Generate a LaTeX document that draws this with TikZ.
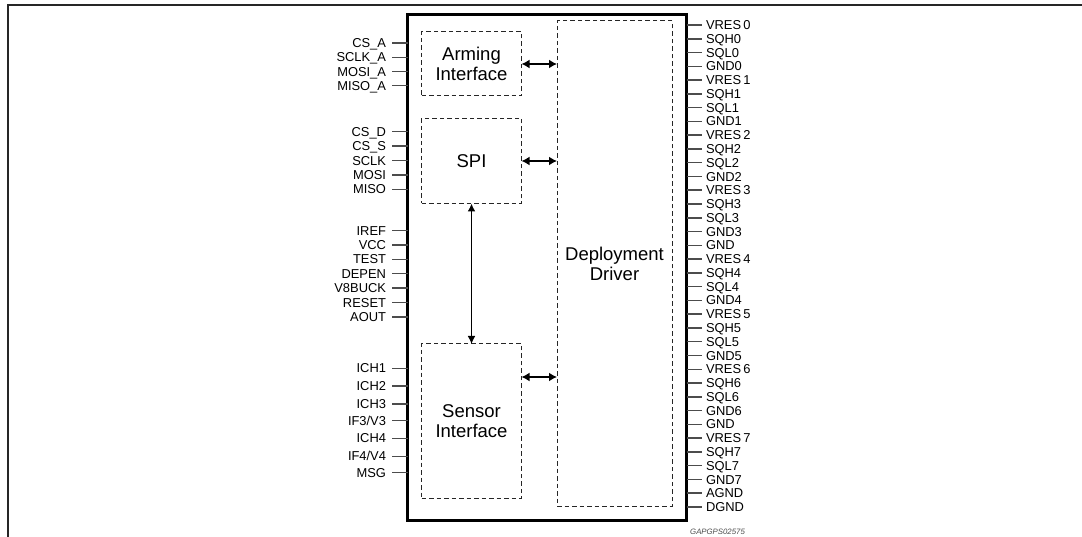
\documentclass[tikz,border=0pt]{standalone}
\usepackage{fontspec}
\setmainfont{Liberation Sans}
\usetikzlibrary{arrows.meta}
\begin{document}
\begin{tikzpicture}[x=1pt,y=-1pt,
  pinlbl/.style={inner sep=0pt, outer sep=0pt, text height=9.2pt, text depth=0pt, font=\fontsize{12.9}{14}\selectfont, text=black},
  stub/.style={line width=1.5pt, draw=black!70},
  chipbox/.style={draw=black, line width=3pt, inner sep=0pt, outer sep=0pt},
  blockbox/.style={draw=black!85, line width=1pt, dash pattern=on 4.5pt off 3pt, inner sep=0pt, outer sep=0pt, align=center, font=\fontsize{18.5}{20}\selectfont},
  biarrow/.style={line width=2.3pt, {Latex[length=8pt,width=9pt]}-{Latex[length=8pt,width=9pt]}},
  varrow/.style={line width=1.8pt, {Latex[length=8pt,width=8pt]}-{Latex[length=8pt,width=8pt]}},
  codelbl/.style={inner sep=0pt, font=\fontsize{7.8}{9}\itshape, text=black!70}
]
\useasboundingbox (0,0) rectangle (1082,537);
% page frame
\draw[line width=2pt, black!85] (8,537) -- (8,5) -- (1082,5);

% chip outline
\node[chipbox, anchor=north west, minimum width=279pt, minimum height=505.7pt] (chip) at (407.5,14.3) {};

% internal blocks
\node[blockbox, anchor=north west, minimum width=100pt, minimum height=64pt] (arm) at (421.5,32) {Arming\\Interface};
\node[blockbox, anchor=north west, minimum width=100pt, minimum height=85pt] (spi) at (421.5,118.5) {SPI};
\node[blockbox, anchor=north west, minimum width=100pt, minimum height=154pt] (sens) at (421.5,344) {Sensor\\Interface};
\node[blockbox, anchor=north west, minimum width=115pt, minimum height=485pt] (dd) at (557,21) {Deployment\\Driver};

% connections
\draw[biarrow] (arm.east) -- (arm.east -| dd.west);
\draw[biarrow] (spi.east) -- (spi.east -| dd.west);
\coordinate (sa) at ([yshift=44pt]sens.east);
\draw[biarrow] (sa) -- (sa -| dd.west);
\draw[varrow] (spi.south) -- (sens.north);

% left pins
\foreach \t/\y [count=\i] in {CS\_A/43, SCLK\_A/57.3, MOSI\_A/71.5, MISO\_A/85.5,
  CS\_D/131.5, CS\_S/146, SCLK/160.7, MOSI/175, MISO/189.3,
  IREF/230.7, VCC/245, TEST/259.3, DEPEN/273.5, V8BUCK/288, RESET/302.5, AOUT/317,
  ICH1/368.3, ICH2/386, ICH3/404, {IF3/V3}/420.5, ICH4/438.3, {IF4/V4}/456.3, MSG/472.7} {
  \node[pinlbl, anchor=east] (L\i) at (386,\y) {\t};
  \draw[stub] ([xshift=6pt]L\i.east) -- (L\i.east -| chip.west);
}

% right pins
\foreach \t [count=\i from 0] in {VRES\,0, SQH0, SQL0, GND0, VRES\,1, SQH1, SQL1, GND1,
  VRES\,2, SQH2, SQL2, GND2, VRES\,3, SQH3, SQL3, GND3, GND,
  VRES\,4, SQH4, SQL4, GND4, VRES\,5, SQH5, SQL5, GND5,
  VRES\,6, SQH6, SQL6, GND6, GND, VRES\,7, SQH7, SQL7, GND7, AGND, DGND} {
  \node[pinlbl, anchor=west] (R\i) at (706,25+13.77*\i) {\t};
  \draw[stub] (chip.east |- R\i.west) -- ([xshift=-4pt]R\i.west);
}

\node[codelbl, anchor=west] (code) at (690,531.5) {GAPGPS02575};
\end{tikzpicture}
\end{document}
